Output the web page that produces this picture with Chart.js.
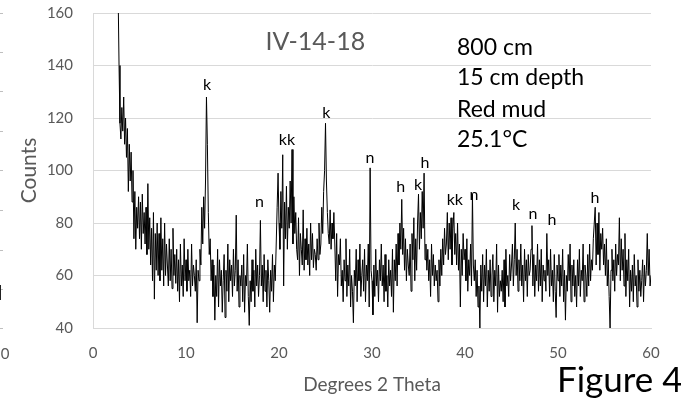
<!DOCTYPE html>
<html><head><meta charset="utf-8">
<script src="https://cdn.jsdelivr.net/npm/chart.js@4/dist/chart.umd.min.js"></script>
<style>
html,body{margin:0;padding:0;background:#fff;}
#wrap{position:relative;width:681px;height:400px;overflow:hidden;background:#fff;}
canvas{position:absolute;left:0;top:0;}
.fig{position:absolute;left:557px;top:357px;font:35px Lato,'Open Sans',sans-serif;color:#000;white-space:nowrap;}
</style></head>
<body><div id="wrap"><canvas id="c" width="681" height="400"></canvas><div class="fig">Figure 4</div></div>
<script>
// scan grid (degrees 2 theta)
const scanStart = 2.6, scanStep = 0.1;
// counts, per region of the scan (10 readings per degree)
const counts03to10 = [195,168,140,118,
 112,124,115,128,110,120,105,116,92,110,
 96,107,88,100,74,92,70,86,78,90,
 74,88,70,91,76,84,72,86,68,95,
 70,82,64,78,58,84,51,76,62,80,
 60,76,58,82,62,74,56,80,60,72,
 64,56,74,58,70,55,78,60,68,57,
 70,54,66,50,72,56,64,52,74,58];
const counts10to20 = [66,54,70,58,62,52,72,56,64,60,
 54,66,42,62,58,70,64,86,72,90,
 78,96,128,110,84,68,74,58,66,52,
 64,43,60,52,70,48,66,56,62,46,
 58,68,44,62,54,72,50,66,58,64,
 52,70,56,62,83,54,66,48,60,56,
 64,50,68,46,60,56,72,52,41,58,
 50,66,54,62,48,70,56,64,52,60,
 81,56,64,50,68,54,62,48,66,58,
 46,62,54,68,50,64,58,72,86,99];
const counts20to30 = [80,70,92,78,106,56,88,74,94,70,
 86,78,96,80,108,72,90,76,84,70,
 66,82,60,76,70,64,85,62,74,66,
 78,64,72,60,80,66,76,63,70,68,
 62,74,66,80,68,72,86,76,92,100,
 118,96,84,76,72,85,70,80,74,84,
 72,58,76,52,68,64,74,56,62,50,
 66,58,74,52,64,56,70,48,60,54,
 42,62,56,70,50,66,58,72,52,60,
 66,54,70,50,64,58,72,48,101,62];
const counts30to40 = [58,45,64,52,70,56,62,50,66,58,
 72,56,64,50,68,54,60,48,66,56,
 62,52,70,46,66,58,72,56,76,64,
 80,70,89,68,78,62,74,58,70,64,
 60,72,54,76,66,82,58,74,62,80,
 91,70,84,74,92,78,99,66,72,62,
 70,58,66,52,72,60,68,56,64,58,
 62,50,66,56,70,60,74,64,78,68,
 72,84,66,80,70,82,64,78,84,68,
 76,64,80,62,72,48,70,60,76,66];
const counts40to50 = [70,58,74,54,66,60,72,56,91,64,
 58,66,52,62,48,56,40,64,54,68,
 50,64,56,70,48,62,54,66,52,60,
 68,50,62,56,72,46,64,52,58,54,
 62,50,66,48,70,56,60,52,68,58,
 64,72,56,66,80,60,70,54,66,58,
 72,56,64,50,70,58,66,52,68,60,
 62,70,79,56,68,52,64,58,72,54,
 66,56,70,50,64,58,62,54,76,60,
 66,52,70,56,62,50,68,54,44,64];
const counts50to60 = [58,68,52,64,56,70,50,62,43,60,
 54,68,58,72,50,64,56,66,52,60,
 48,66,56,70,52,62,58,72,50,64,
 60,52,68,56,72,58,66,62,74,80,
 86,64,80,68,84,62,76,70,78,64,
 72,60,74,56,66,52,40,62,70,58,
 66,54,72,60,68,64,82,58,74,62,
 70,56,76,52,66,58,70,48,62,54,
 64,50,68,56,60,48,66,54,62,52,
 58,66,50,64,56,62,76,60,70,56,
 60];

const xTicks = [0,10,20,30,40,50,60];
const yTicks = [40,60,80,100,120,140,160];

// peak labels (mineral codes) at their 2theta / counts position
const peakLabelText = ['k','n','kk','k','n','h','k','h','kk','n','k','n','h','h'];
const peakLabelX    = [12.26,17.9,20.86,25.1,29.78,33.1,34.95,35.7,38.9,40.97,45.5,47.3,49.35,53.98];
const peakLabelY    = [130.7,86.1,109.7,120,102.9,91.8,92.6,101,86.9,88.8,85,81.5,79.2,87.6];

const sampleTitle = 'IV-14-18';
const sampleInfo = ['800 cm','15 cm depth','Red mud','25.1°C'];

const allCounts = [].concat(counts03to10, counts10to20, counts20to30, counts30to40, counts40to50, counts50to60);
const points = allCounts.map((v,i)=>({x: Math.round((scanStart + i*scanStep)*100)/100, y: v}));

const FONT = 'Lato, "Open Sans", sans-serif';

const textPlugin = {
  id:'texts',
  afterDatasetsDraw(chart){
    const {ctx, scales:{x,y}} = chart;
    ctx.save();
    ctx.textBaseline='alphabetic';
    ctx.textAlign='center';
    ctx.fillStyle='#000';
    ctx.font='16px '+FONT;
    peakLabelText.forEach((t,i)=>ctx.fillText(t, x.getPixelForValue(peakLabelX[i]), y.getPixelForValue(peakLabelY[i])));
    ctx.fillStyle='#595959';
    ctx.font='25px '+FONT;
    ctx.fillText(sampleTitle, x.getPixelForValue(23.9), y.getPixelForValue(145.9));
    ctx.textAlign='left';
    ctx.fillStyle='#000';
    ctx.font='23px '+FONT;
    const infoY=[144,132.6,120.4,109];
    sampleInfo.forEach((t,i)=>ctx.fillText(t, x.getPixelForValue(39.14), y.getPixelForValue(infoY[i])));
    ctx.restore();
  },
  afterDraw(chart){
    // fragment of neighbouring chart at the left edge
    const ctx = chart.ctx;
    ctx.save();
    ctx.strokeStyle='#bfbfbf'; ctx.lineWidth=1;
    [13,52,91,131,170,210,250,289,328].forEach(v=>{ctx.beginPath();ctx.moveTo(0,v+0.5);ctx.lineTo(3,v+0.5);ctx.stroke();});
    ctx.strokeStyle='#222';
    ctx.beginPath();ctx.moveTo(0.5,285);ctx.lineTo(0.5,300);ctx.stroke();
    ctx.fillStyle='#595959'; ctx.font='15px '+FONT; ctx.textAlign='center'; ctx.textBaseline='middle';
    ctx.fillText('0',5,354);
    ctx.restore();
  }
};

new Chart(document.getElementById('c'), {
  type:'line',
  data:{datasets:[{data:points, borderColor:'#000', borderWidth:1, pointRadius:0, tension:0, fill:false}]},
  options:{
    responsive:false, animation:false, devicePixelRatio:1,
    layout:{padding:{top:13,right:30,left:0,bottom:0}},
    plugins:{legend:{display:false}, tooltip:{enabled:false}},
    scales:{
      x:{type:'linear', min:0, max:60,
        afterBuildTicks(s){ s.ticks = xTicks.map(v=>({value:v})); },
        afterFit(s){ s.height = 72; },
        grid:{display:false, drawTicks:false},
        border:{display:true, color:'#d9d9d9'},
        ticks:{color:'#595959', font:{family:FONT,size:15}, padding:16, maxRotation:0},
        title:{display:true, text:'Degrees 2 Theta', color:'#595959', font:{family:FONT,size:19}, padding:{top:0,bottom:4}}
      },
      y:{min:40, max:160,
        afterBuildTicks(s){ s.ticks = yTicks.map(v=>({value:v})); },
        afterFit(s){ s.width = 93; },
        grid:{color:'#d9d9d9', drawTicks:true, tickLength:16, tickColor:'rgba(0,0,0,0)'},
        border:{display:true, color:'#d9d9d9'},
        ticks:{color:'#595959', font:{family:FONT,size:15}, padding:4},
        title:{display:true, text:'Counts', color:'#595959', font:{family:FONT,size:21}, padding:{top:17,bottom:0}}
      }
    }
  },
  plugins:[textPlugin]
});
</script>
</body></html>
